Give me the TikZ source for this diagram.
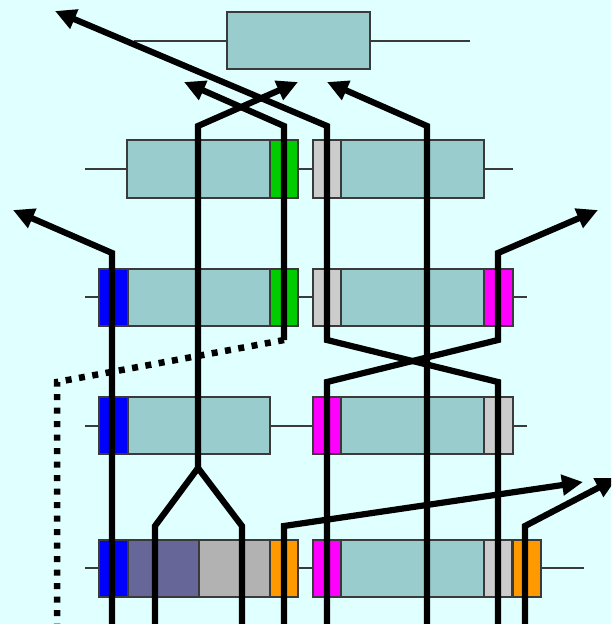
\documentclass[tikz,border=0pt]{standalone}
\usetikzlibrary{arrows.meta}
\definecolor{bgcyan}{HTML}{E0FFFF}
\definecolor{boxteal}{HTML}{99CCCC}
\definecolor{edgegray}{HTML}{3A3A3A}
\definecolor{bandblue}{HTML}{0000FF}
\definecolor{bandgreen}{HTML}{00CC00}
\definecolor{bandlight}{HTML}{CCCCCC}
\definecolor{bandmag}{HTML}{FF00FF}
\definecolor{bandorange}{HTML}{FF9900}
\definecolor{bandslate}{HTML}{666699}
\definecolor{bandmid}{HTML}{B2B2B2}
\tikzset{
  seg/.style={draw=edgegray, line width=1.3pt, fill=#1},
  seg/.default=boxteal,
  lead/.style={draw=edgegray, line width=1.5pt},
  strand/.style={line width=6.2pt, line join=miter},
  arr/.style={strand, -{Triangle[length=21pt,width=20pt]}},
  dotline/.style={line width=6.5pt, dash pattern=on 6pt off 7.5pt}
}
\begin{document}
\begin{tikzpicture}[x=1pt,y=-1pt]
  \useasboundingbox (0,0) rectangle (611,624);
  \clip (0,0) rectangle (611,624);
  \fill[bgcyan] (0,0) rectangle (611,624);

  % ---- row 1
  \draw[lead] (134,41) -- (470,41);
  \path[seg] (227,12) rectangle (370,69);

  % ---- row 2
  \draw[lead] (85,169) -- (513,169);
  \path[seg] (127,140) rectangle (270,198);
  \path[seg=bandgreen] (270,140) rectangle (298,198);
  \path[seg=bandlight] (313,140) rectangle (341,198);
  \path[seg] (341,140) rectangle (484,198);

  % ---- row 3
  \draw[lead] (85,297) -- (527,297);
  \path[seg=bandblue] (99,269) rectangle (128,326);
  \path[seg] (128,269) rectangle (270,326);
  \path[seg=bandgreen] (270,269) rectangle (298,326);
  \path[seg=bandlight] (313,269) rectangle (341,326);
  \path[seg] (341,269) rectangle (484,326);
  \path[seg=bandmag] (484,269) rectangle (513,326);

  % ---- row 4
  \draw[lead] (85,426) -- (527,426);
  \path[seg=bandblue] (99,397) rectangle (128,454);
  \path[seg] (128,397) rectangle (270,454);
  \path[seg=bandmag] (313,397) rectangle (341,454);
  \path[seg] (341,397) rectangle (484,454);
  \path[seg=bandlight] (484,397) rectangle (513,454);

  % ---- row 5
  \draw[lead] (85,568) -- (584,568);
  \path[seg=bandblue] (99,540) rectangle (128,597);
  \path[seg=bandslate] (128,540) rectangle (199,597);
  \path[seg=bandmid] (199,540) rectangle (270,597);
  \path[seg=bandorange] (270,540) rectangle (298,597);
  \path[seg=bandmag] (313,540) rectangle (341,597);
  \path[seg] (341,540) rectangle (484,597);
  \path[seg=bandlight] (484,540) rectangle (512,597);
  \path[seg=bandorange] (513,540) rectangle (541,597);

  % ---- strand corners and ends
  \coordinate (aBot) at (112,624);  \coordinate (aBend) at (112,253);  \coordinate (aTip) at (13,210);
  \coordinate (bBot) at (498,624);  \coordinate (bLow) at (498,382);   \coordinate (bHigh) at (327,340);
  \coordinate (bBend) at (327,126); \coordinate (bTip) at (55,11);
  \coordinate (cBot) at (327,624);  \coordinate (cLow) at (327,382);   \coordinate (cHigh) at (498,340);
  \coordinate (cBend) at (498,253); \coordinate (cTip) at (598,210);
  \coordinate (dEnd) at (284,340);  \coordinate (dBend) at (284,126);  \coordinate (dTip) at (184,82);
  \coordinate (eFork) at (198,468); \coordinate (eBend) at (198,126);  \coordinate (eTip) at (298,82);
  \coordinate (fLeft) at (155,526); \coordinate (fLeftBot) at (155,624);
  \coordinate (fRight) at (242,526);\coordinate (fRightBot) at (242,624);
  \coordinate (gBot) at (427,624);  \coordinate (gBend) at (427,126);  \coordinate (gTip) at (327,82);
  \coordinate (hBot) at (284,624);  \coordinate (hBend) at (284,526);  \coordinate (hTip) at (583,482);
  \coordinate (kBot) at (525,624);  \coordinate (kBend) at (525,526);  \coordinate (kTip) at (617,478);
  \coordinate (mCorner) at (57,382); \coordinate (mBot) at (57,624);

  % ---- strands
  \draw[arr] (aBot) -- (aBend) -- (aTip);
  \draw[arr] (bBot) -- (bLow) -- (bHigh) -- (bBend) -- (bTip);
  \draw[arr] (cBot) -- (cLow) -- (cHigh) -- (cBend) -- (cTip);
  \draw[arr] (dEnd) -- (dBend) -- (dTip);
  \draw[arr] (eFork) -- (eBend) -- (eTip);
  \draw[strand] (fLeftBot) -- (fLeft) -- (eFork) -- (fRight) -- (fRightBot);
  \draw[arr] (gBot) -- (gBend) -- (gTip);
  \draw[arr] (hBot) -- (hBend) -- (hTip);
  \draw[arr] (kBot) -- (kBend) -- (kTip);
  \draw[dotline] (dEnd) -- (mCorner) -- (mBot);
\end{tikzpicture}
\end{document}
